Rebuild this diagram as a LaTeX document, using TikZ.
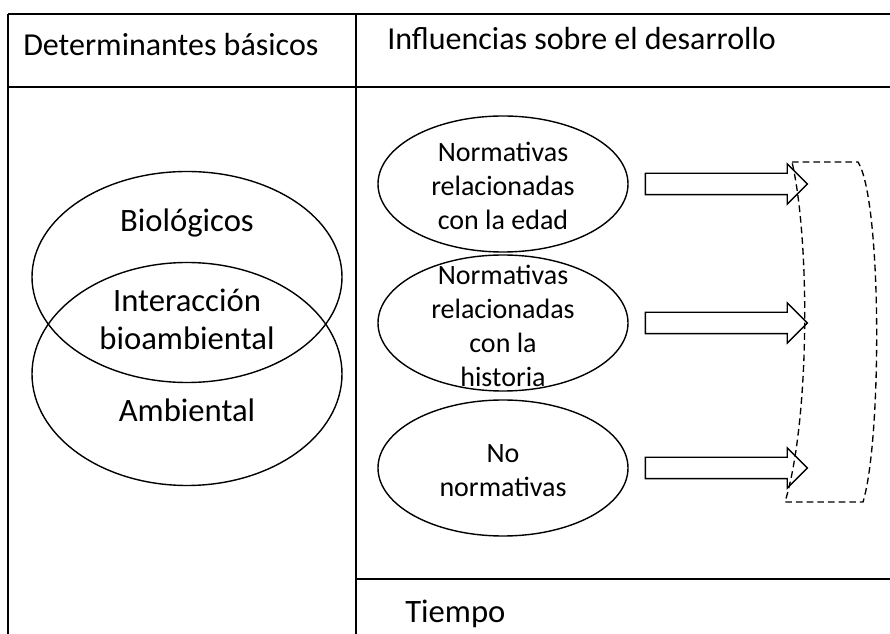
\documentclass[tikz,border=0pt]{standalone}
\usepackage{fontspec}
\setmainfont{Carlito}
\usetikzlibrary{shapes.geometric}
\usetikzlibrary{shapes.arrows}

\tikzset{
    linea/.style={line width=0.9pt},
    ovalo/.style={draw, ellipse, line width=1.05pt, inner sep=0pt},
    textoGrande/.style={inner sep=0pt, align=center, font=\fontsize{24.5}{28.5}\selectfont},
    textoChico/.style={inner sep=0pt, align=center, font=\fontsize{21}{25.5}\selectfont},
    flecha/.style={draw, single arrow, line width=1pt, inner xsep=0pt, inner ysep=7.5pt,
        minimum height=121.5pt, single arrow head extend=7.1pt, single arrow tip angle=90}
}

\begin{document}
\begin{tikzpicture}[x=0.75pt,y=0.75pt,yscale=-1]
        \useasboundingbox (0,0) rectangle (890,634);

        % Straight Lines (table)
        \draw [linea, line width=1.3pt] (8,14) -- (890,14) ;
        \draw [linea] (8,14) -- (8,634) ;
        \draw [linea] (356,14) -- (356,634) ;
        \draw [linea] (8,87) -- (890,87) ;
        \draw [linea] (356,579) -- (890,579) ;

        % Text Node
        \draw (23,56) node [anchor=base west][inner sep=0pt][font=\fontsize{24}{28}\selectfont] (detBasicos) {Determinantes básicos};
        % Text Node
        \draw (387,50) node [anchor=base west][inner sep=0pt][font=\fontsize{24}{28}\selectfont] (influencias) {Influencias sobre el desarrollo};
        % Text Node
        \draw (405,623) node [anchor=base west][inner sep=0pt][font=\fontsize{24.5}{28}\selectfont] (tiempo) {Tiempo};

        % Shape: Ellipse
        \draw (187,277) node [ovalo, minimum width=232.5pt, minimum height=158.25pt] (biologico) {};
        % Shape: Ellipse
        \draw (187,374) node [ovalo, minimum width=232.5pt, minimum height=167.25pt] (ambiental) {};

        % Text Node
        \draw (187,232) node [textoGrande, anchor=base] (txtBio) {Biológicos};
        % Text Node
        \draw (187,319) node [textoGrande] (txtInter) {Interacción\\bioambiental};
        % Text Node
        \draw (187,422) node [textoGrande, anchor=base] (txtAmb) {Ambiental};

        % Shape: Ellipse
        \draw (503,184) node [ovalo, minimum width=187.5pt, minimum height=102pt] (nrmEdad) {};
        % Shape: Ellipse
        \draw (503,323) node [ovalo, minimum width=187.5pt, minimum height=102pt] (nrmHistoria) {};
        % Shape: Ellipse
        \draw (503,468) node [ovalo, minimum width=187.5pt, minimum height=102pt] (noNormativas) {};

        % Text Node
        \draw (503,186) node [textoChico] (txtEdad) {Normativas\\relacionadas\\con la edad};
        % Text Node
        \draw (503,326) node [textoChico] (txtHistoria) {Normativas\\relacionadas\\con la\\historia};
        % Text Node
        \draw (503,471) node [textoChico] (txtNo) {No\\normativas};

        % Block Arrows
        \draw ([xshift=12pt]nrmEdad.east) node [flecha, anchor=tail] (flechaEdad) {};
        \draw ([xshift=12pt]nrmHistoria.east) node [flecha, anchor=tail] (flechaHistoria) {};
        \draw ([xshift=12pt]noNormativas.east) node [flecha, anchor=tail] (flechaNo) {};

        % Dashed bracket
        \draw [line width=1pt, dash pattern=on 5pt off 3pt]
            (792,162) -- (858,162) .. controls (882,200) and (882,440) .. (863,502)
            -- (785,502) .. controls (810,420) and (810,240) .. (792,162) ;
\end{tikzpicture}
\end{document}
